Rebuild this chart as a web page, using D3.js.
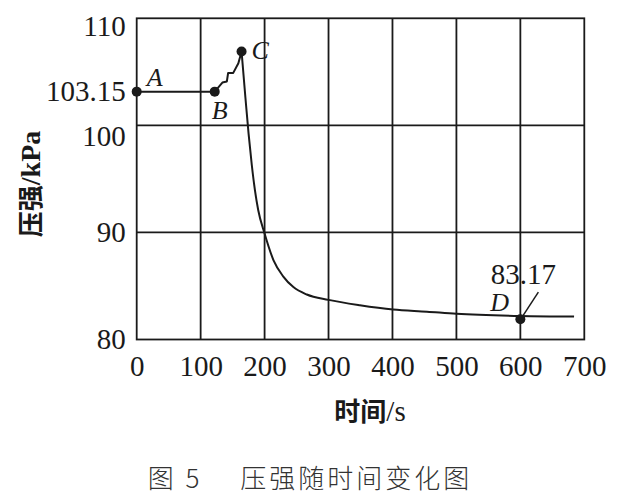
<!DOCTYPE html>
<html>
<head>
<meta charset="utf-8">
<script src="https://cdn.jsdelivr.net/npm/d3@7"></script>
<style>
  html, body { margin: 0; padding: 0; background: #fff; }
  svg { display: block; }
  .serif { font-family: "Liberation Serif", "Times New Roman", "DejaVu Serif", serif; }
  .cjk { font-family: "Noto Sans CJK SC", "Noto Sans CJK JP", sans-serif; }
</style>
</head>
<body>
<svg id="chart"></svg>
<script>
// ━━━━━━━━━━━━━━━━━━━━━━━━━━━━━━━━━━━━━━━━━━━━━━━━━━━━━━━━━━━━━━━━━━━━━━━━━━━━━━
// Data ////////////////////////////////////////////////////////////////////////
// ━━━━━━━━━━━━━━━━━━━━━━━━━━━━━━━━━━━━━━━━━━━━━━━━━━━━━━━━━━━━━━━━━━━━━━━━━━━━━━

// A -> B -> C (flat, then a staircase rise)
const riseTime  = [0, 122, 134, 141, 143, 151, 159, 164];
const riseKpa   = [103.15, 103.15, 104.0, 104.1, 104.9, 104.9, 105.8, 106.9];

// C -> D -> end (pressure decay)
const fallTime  = [164, 170, 175, 180, 185, 190, 200, 214, 229, 245, 266, 300, 349, 401, 454, 500, 600, 684];
const fallKpa   = [106.9, 102.6, 99.2, 96.3, 93.9, 92.1, 89.9, 87.4, 85.9, 84.9, 84.2, 83.7, 83.2, 82.8, 82.6, 82.4, 82.2, 82.15];

// marked points
const pointNames = ['A', 'B', 'C', 'D'];
const pointTime  = [0, 122, 164, 600];
const pointKpa   = [103.15, 103.15, 106.9, 81.9];

const xTicks = [0, 100, 200, 300, 400, 500, 600, 700];
const yTicks = [80, 90, 100, 103.15, 110];
const yGrid  = [90, 100];
const dLabel = '83.17';

const xTitle  = '时间';
const xUnit   = '/s';
const yTitle  = '压强';
const yUnit   = '/kPa';
const caption = '图 5\u2003 压强随时间变化图';

// ━━━━━━━━━━━━━━━━━━━━━━━━━━━━━━━━━━━━━━━━━━━━━━━━━━━━━━━━━━━━━━━━━━━━━━━━━━━━━━
// Setup ///////////////////////////////////////////////////////////////////////
// ━━━━━━━━━━━━━━━━━━━━━━━━━━━━━━━━━━━━━━━━━━━━━━━━━━━━━━━━━━━━━━━━━━━━━━━━━━━━━━

const width = 639;
const height = 499;
const ink = '#1a1a1a';

const svg = d3.select('#chart')
  .attr('width', width)
  .attr('height', height)
  .attr('viewBox', [0, 0, width, height]);

const x = d3.scaleLinear().domain([0, 700]).range([136.7, 584.3]);
const y = d3.scaleLinear().domain([80, 110]).range([339.5, 18.3]);

// ━━━━━━━━━━━━━━━━━━━━━━━━━━━━━━━━━━━━━━━━━━━━━━━━━━━━━━━━━━━━━━━━━━━━━━━━━━━━━━
// Grid + frame ////////////////////////////////////////////////////////////////
// ━━━━━━━━━━━━━━━━━━━━━━━━━━━━━━━━━━━━━━━━━━━━━━━━━━━━━━━━━━━━━━━━━━━━━━━━━━━━━━

const grid = svg.append('g').attr('stroke', ink).attr('stroke-width', 1.8);

grid.selectAll('.vgrid')
  .data(xTicks.slice(1, -1))
  .join('line')
  .attr('class', 'vgrid')
  .attr('x1', d => x(d)).attr('x2', d => x(d))
  .attr('y1', y(110)).attr('y2', y(80));

grid.selectAll('.hgrid')
  .data(yGrid)
  .join('line')
  .attr('class', 'hgrid')
  .attr('x1', x(0)).attr('x2', x(700))
  .attr('y1', d => y(d)).attr('y2', d => y(d));

grid.append('rect')
  .attr('x', x(0)).attr('y', y(110))
  .attr('width', x(700) - x(0))
  .attr('height', y(80) - y(110))
  .attr('fill', 'none');

// ━━━━━━━━━━━━━━━━━━━━━━━━━━━━━━━━━━━━━━━━━━━━━━━━━━━━━━━━━━━━━━━━━━━━━━━━━━━━━━
// Axes ////////////////////////////////////////////////////////////////////////
// ━━━━━━━━━━━━━━━━━━━━━━━━━━━━━━━━━━━━━━━━━━━━━━━━━━━━━━━━━━━━━━━━━━━━━━━━━━━━━━

const xAxis = svg.append('g')
  .attr('transform', `translate(0,${y(80)})`)
  .call(d3.axisBottom(x).tickValues(xTicks).tickSize(0).tickPadding(16).tickFormat(d3.format('d')));

const yAxis = svg.append('g')
  .attr('transform', `translate(${x(0)},0)`)
  .call(d3.axisLeft(y).tickValues(yTicks).tickSize(0).tickPadding(11)
    .tickFormat(d => d === 103.15 ? '103.15' : d3.format('d')(d)));

[xAxis, yAxis].forEach(ax => {
  ax.attr('font-family', null).attr('font-size', null);
  ax.select('.domain').remove();
  ax.selectAll('text')
    .attr('class', 'serif')
    .style('font-size', '29px')
    .attr('fill', ink);
});

// top labels sit a little under their lines (room for 103.15)
yAxis.selectAll('.tick text')
  .attr('dy', d => d === 110 ? '0.6em' : d === 100 ? '0.7em' : '0.32em');

// axis titles
svg.append('text')
  .attr('x', 370).attr('y', 421)
  .attr('text-anchor', 'middle')
  .attr('fill', ink)
  .call(t => {
    t.append('tspan').attr('class', 'cjk').style('font-weight', 700).style('font-size', '26px').text(xTitle);
    t.append('tspan').attr('class', 'serif').style('font-size', '29px').text(xUnit);
  });

svg.append('text')
  .attr('transform', 'translate(40,184) rotate(-90)')
  .attr('text-anchor', 'middle')
  .attr('fill', ink)
  .call(t => {
    t.append('tspan').attr('class', 'cjk').style('font-weight', 700).style('font-size', '26px').text(yTitle);
    t.append('tspan').attr('class', 'serif').style('font-weight', 700).style('font-size', '28px').text(yUnit);
  });

// caption
svg.append('text')
  .attr('class', 'cjk')
  .attr('x', 310).attr('y', 488)
  .attr('text-anchor', 'middle')
  .style('font-weight', 300)
  .style('font-size', '26px')
  .style('letter-spacing', '3px')
  .attr('fill', '#333')
  .text(caption);

// ━━━━━━━━━━━━━━━━━━━━━━━━━━━━━━━━━━━━━━━━━━━━━━━━━━━━━━━━━━━━━━━━━━━━━━━━━━━━━━
// Curve ///////////////////////////////////////////////////////////////////////
// ━━━━━━━━━━━━━━━━━━━━━━━━━━━━━━━━━━━━━━━━━━━━━━━━━━━━━━━━━━━━━━━━━━━━━━━━━━━━━━

const rise = riseTime.map((t, i) => [t, riseKpa[i]]);
const fall = fallTime.map((t, i) => [t, fallKpa[i]]);

svg.append('path')
  .datum(rise)
  .attr('fill', 'none')
  .attr('stroke', ink)
  .attr('stroke-width', 2)
  .attr('stroke-linejoin', 'round')
  .attr('d', d3.line().x(d => x(d[0])).y(d => y(d[1])));

svg.append('path')
  .datum(fall)
  .attr('fill', 'none')
  .attr('stroke', ink)
  .attr('stroke-width', 2)
  .attr('d', d3.line().x(d => x(d[0])).y(d => y(d[1])).curve(d3.curveMonotoneX));

// ━━━━━━━━━━━━━━━━━━━━━━━━━━━━━━━━━━━━━━━━━━━━━━━━━━━━━━━━━━━━━━━━━━━━━━━━━━━━━━
// Points A B C D //////////////////////////////////////////////////////////////
// ━━━━━━━━━━━━━━━━━━━━━━━━━━━━━━━━━━━━━━━━━━━━━━━━━━━━━━━━━━━━━━━━━━━━━━━━━━━━━━

const points = pointNames.map((n, i) => ({ name: n, t: pointTime[i], p: pointKpa[i] }));

// where each letter sits relative to its dot
const letterOffset = { A: [10, -6], B: [-3, 27], C: [10, 8], D: [-30, -8] };

svg.selectAll('.pt')
  .data(points)
  .join('circle')
  .attr('class', 'pt')
  .attr('cx', d => x(d.t))
  .attr('cy', d => y(d.p))
  .attr('r', 5)
  .attr('fill', ink);

svg.selectAll('.pt-label')
  .data(points)
  .join('text')
  .attr('class', 'serif')
  .attr('x', d => x(d.t) + letterOffset[d.name][0])
  .attr('y', d => y(d.p) + letterOffset[d.name][1])
  .style('font-style', 'italic')
  .style('font-size', '26px')
  .attr('fill', ink)
  .text(d => d.name);

// D value + leader line
const D = points[3];
svg.append('line')
  .attr('x1', x(D.t) + 3).attr('y1', y(D.p) - 4)
  .attr('x2', x(D.t) + 18).attr('y2', y(D.p) - 27)
  .attr('stroke', ink)
  .attr('stroke-width', 1.5);

svg.append('text')
  .attr('class', 'serif')
  .attr('x', x(D.t) + 3)
  .attr('y', y(D.p) - 35)
  .attr('text-anchor', 'middle')
  .style('font-size', '29px')
  .attr('fill', ink)
  .text(dLabel);
</script>
</body>
</html>
